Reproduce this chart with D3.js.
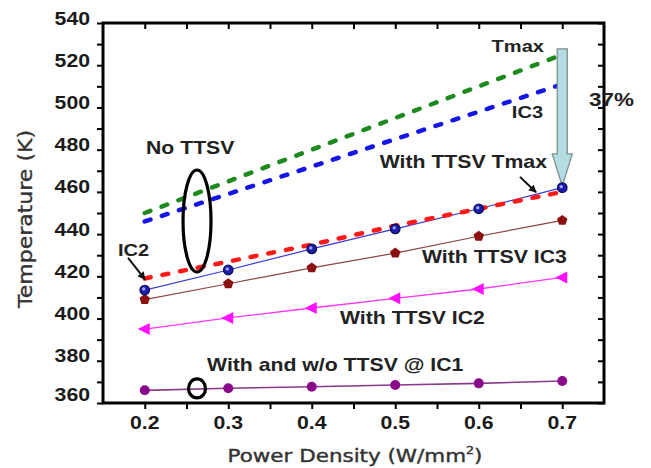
<!DOCTYPE html>
<html>
<head>
<meta charset="utf-8">
<script src="https://cdn.jsdelivr.net/npm/d3@7"></script>
<style>body{margin:0;background:#fff;}</style>
</head>
<body>
<div id="plot"></div>
<script>
// power density (W/mm^2)
var powerDensity = [0.2, 0.3, 0.4, 0.5, 0.6, 0.7];

// temperatures (K)
var noTtsvTmax = [450, 465, 480, 495, 510, 525];
var noTtsvIC3  = [446, 459, 472, 485, 498, 511];
var noTtsvIC2  = [419, 427, 435, 444, 452, 460];
var ttsvTmax   = [413.5, 423, 433, 442.5, 452, 462];
var ttsvIC3    = [409, 416.5, 424, 431, 439, 446.5];
var ttsvIC2    = [395, 400.3, 405, 409.6, 414, 419.5];
var bothIC1    = [366, 367, 367.7, 368.5, 369.3, 370.4];

var xTickLabels = [0.2, 0.3, 0.4, 0.5, 0.6, 0.7];
var xMinorTicks = [0.2, 0.25, 0.3, 0.35, 0.4, 0.45, 0.5, 0.55, 0.6, 0.65, 0.7];
var yTickLabels = [360, 380, 400, 420, 440, 460, 480, 500, 520, 540];
var yMinorTicks = d3.range(360, 541, 10);

var width = 651, height = 468;
var stretch = 1.18;
var font = "'Liberation Sans', Arial, sans-serif";

var svg = d3.select("#plot").append("svg")
  .attr("width", width).attr("height", height)
  .style("background", "#fff");

var x = d3.scaleLinear().domain([0.15, 0.75]).range([103, 604]);
var y = d3.scaleLinear().domain([360, 540]).range([403, 23]);

var g = svg.append("g");

// arrow head marker for the small pointers
svg.append("defs").append("marker")
  .attr("id", "head")
  .attr("viewBox", "0 0 10 10")
  .attr("refX", 9).attr("refY", 5)
  .attr("markerWidth", 4).attr("markerHeight", 4)
  .attr("orient", "auto")
  .append("path").attr("d", "M0,0L10,5L0,10z").attr("fill", "#111");

// ticks: outward on bottom/left, inward on top/right
function styleTicks(sel) {
  sel.select(".domain").remove();
  sel.selectAll("line").attr("stroke", "#000").attr("stroke-width", 2);
}
g.append("g").attr("transform", "translate(0," + y(360) + ")")
  .call(d3.axisBottom(x).tickValues(xMinorTicks).tickSize(6).tickFormat(""))
  .call(styleTicks);
g.append("g").attr("transform", "translate(0," + y(540) + ")")
  .call(d3.axisTop(x).tickValues(xMinorTicks).tickSize(-6).tickFormat(""))
  .call(styleTicks);
g.append("g").attr("transform", "translate(" + x(0.15) + ",0)")
  .call(d3.axisLeft(y).tickValues(yMinorTicks).tickSize(6).tickFormat(""))
  .call(styleTicks);
g.append("g").attr("transform", "translate(" + x(0.75) + ",0)")
  .call(d3.axisRight(y).tickValues(yMinorTicks).tickSize(-6).tickFormat(""))
  .call(styleTicks);

g.append("rect")
  .attr("x", x(0.15)).attr("y", y(540))
  .attr("width", x(0.75) - x(0.15)).attr("height", y(360) - y(540))
  .attr("fill", "none").attr("stroke", "#000").attr("stroke-width", 3);

// text helper, slightly widened like the source image
function label(px, py, s, anchor, size, weight, color) {
  return g.append("text")
    .attr("transform", "translate(" + px + "," + py + ") scale(" + stretch + ",1)")
    .attr("text-anchor", anchor || "start")
    .attr("font-family", font)
    .attr("font-weight", weight || "bold")
    .attr("font-size", size || 18)
    .attr("fill", color || "#222")
    .text(s);
}

yTickLabels.forEach(function(v) {
  label(x(0.15) - 13, y(v) + (v == 360 ? -2 : 1.5), v, "end", 18, "bold", "#1a1a1a");
});
xTickLabels.forEach(function(v) {
  label(x(v), y(360) + 25.5, d3.format(".1f")(v), "middle", 18, "bold", "#1a1a1a");
});

// axis titles
var xt = g.append("text")
  .attr("font-family", "'DejaVu Sans', Verdana, sans-serif")
  .attr("font-size", 17).attr("fill", "#333")
  .attr("stroke", "#333").attr("stroke-width", 0.4)
  .attr("text-anchor", "middle");
xt.append("tspan").text("Power Density (W/mm");
xt.append("tspan").attr("font-size", 10).attr("dy", -8).text("2");
xt.append("tspan").attr("dy", 8).text(")");
var xw = xt.node().getComputedTextLength();
xt.attr("transform", "translate(355,462) scale(" + (255 / xw) + ",1)");

var yt = g.append("text")
  .attr("font-family", "'DejaVu Sans', Verdana, sans-serif")
  .attr("font-size", 16).attr("fill", "#333")
  .attr("stroke", "#333").attr("stroke-width", 0.3)
  .attr("text-anchor", "middle")
  .text("Temperature (K)");
var yw = yt.node().getComputedTextLength();
yt.attr("transform", "translate(32,219) rotate(-90) scale(" + (178 / yw) + "," + stretch + ")");

// series
var line = d3.line().x(function(d) { return x(d[0]); }).y(function(d) { return y(d[1]); });
function pairs(vals) { return powerDensity.map(function(p, i) { return [p, vals[i]]; }); }

function solid(vals, color, w) {
  g.append("path").datum(pairs(vals)).attr("d", line)
    .attr("fill", "none").attr("stroke", color).attr("stroke-width", w);
}
function dashed(vals, color) {
  g.append("path").datum(pairs(vals)).attr("d", line)
    .attr("fill", "none").attr("stroke", color).attr("stroke-width", 4.5)
    .attr("stroke-dasharray", "6,12").attr("stroke-linecap", "round");
}

solid(bothIC1, "#8a3a8a", 1.6);
solid(ttsvIC2, "#ff33ff", 1.3);
solid(ttsvIC3, "#8b4545", 1.2);
solid(ttsvTmax, "#3b3bd6", 1.2);

dashed(noTtsvTmax, "#1e8a1e");
dashed(noTtsvIC3, "#1515e8");
dashed(noTtsvIC2, "#ff1a1a");

// markers
function pentagon(r) {
  return d3.range(5).map(function(i) {
    var a = -Math.PI / 2 + i * 2 * Math.PI / 5;
    return [r * Math.cos(a), r * Math.sin(a)];
  });
}

g.selectAll(".ic1").data(pairs(bothIC1)).enter().append("circle")
  .attr("cx", function(d) { return x(d[0]); }).attr("cy", function(d) { return y(d[1]); })
  .attr("r", 5).attr("fill", "#8b0a8b");

g.selectAll(".ic2").data(pairs(ttsvIC2)).enter().append("path")
  .attr("d", "M-7,0L5,-6L5,6Z")
  .attr("transform", function(d) { return "translate(" + x(d[0]) + "," + y(d[1]) + ")"; })
  .attr("fill", "#ff10ff");

g.selectAll(".ic3").data(pairs(ttsvIC3)).enter().append("polygon")
  .attr("points", pentagon(5.5).join(" "))
  .attr("transform", function(d) { return "translate(" + x(d[0]) + "," + y(d[1]) + ")"; })
  .attr("fill", "#8b1010");

// big reduction arrow (drawn under the 0.7 marker)
var arrX = x(0.7), arrTop = y(527.7), arrNeck = y(478), arrTip = y(462.8);
g.append("polygon")
  .attr("points", [[arrX - 5, arrTop], [arrX + 5, arrTop], [arrX + 5, arrNeck], [arrX + 10, arrNeck],
                   [arrX, arrTip], [arrX - 10, arrNeck], [arrX - 5, arrNeck]].join(" "))
  .attr("fill", "#b3dde2").attr("stroke", "#7f8f90").attr("stroke-width", 1.3);

var tm = g.selectAll(".tmax").data(pairs(ttsvTmax)).enter().append("g")
  .attr("transform", function(d) { return "translate(" + x(d[0]) + "," + y(d[1]) + ")"; });
tm.append("circle").attr("r", 4.8).attr("fill", "#1c1caa").attr("stroke", "#0a0a55").attr("stroke-width", 1.2);
tm.append("circle").attr("r", 1.7).attr("cx", -1).attr("cy", -1).attr("fill", "#9aa6ff");

// ellipses around the groups
g.append("ellipse").attr("cx", x(0.2626)).attr("cy", y(446.2)).attr("rx", 14).attr("ry", 51)
  .attr("fill", "none").attr("stroke", "#000").attr("stroke-width", 3.2);
g.append("ellipse").attr("cx", x(0.2626)).attr("cy", y(366.9)).attr("rx", 8.5).attr("ry", 9.5)
  .attr("fill", "none").attr("stroke", "#000").attr("stroke-width", 3.2);

// small pointers
function pointer(x0, y0, x1, y1) {
  g.append("line").attr("x1", x(x0)).attr("y1", y(y0)).attr("x2", x(x1)).attr("y2", y(y1))
    .attr("stroke", "#111").attr("stroke-width", 2).attr("marker-end", "url(#head)");
}
pointer(0.18, 428.7, 0.2003, 418.6);
pointer(0.6494, 467.1, 0.6686, 459.8);

// annotations
label(x(0.2015), y(478.1), "No TTSV");
label(x(0.6781), y(526.5), "Tmax", "end", 17);
label(x(0.677), y(494.8), "IC3", "end", 17);
label(x(0.732), y(500.9), "37%", "start", 19);
label(x(0.6817), y(471.1), "With TTSV Tmax", "end");
label(x(0.532), y(426.1), "With TTSV IC3");
label(x(0.4338), y(397.2), "With TTSV IC2");
label(x(0.2746), y(375.2), "With and w/o TTSV @ IC1");
label(x(0.168), y(429.4), "IC2", "start", 17);
</script>
</body>
</html>
